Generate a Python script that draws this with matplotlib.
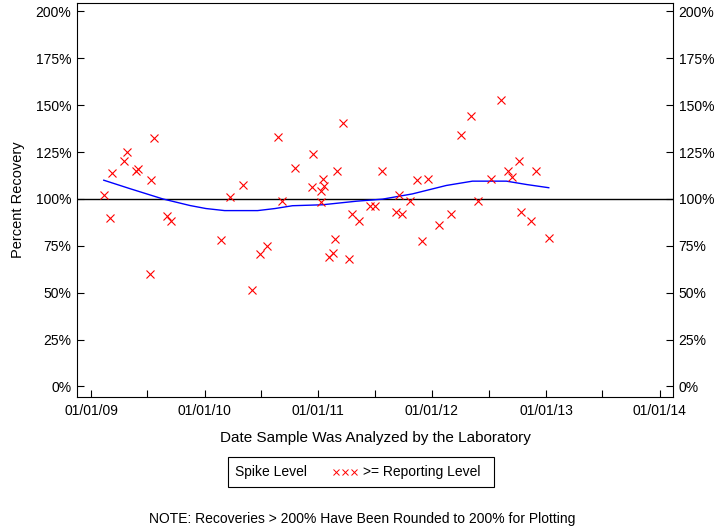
import numpy as np
import pandas as pd
import matplotlib
matplotlib.use("Agg")
import matplotlib.pyplot as plt
import matplotlib.dates as mdates
from matplotlib.patches import Rectangle
from matplotlib.lines import Line2D

plt.rcParams['font.family'] = ['Liberation Sans', 'DejaVu Sans']

# ---------------------------
# Data
# ---------------------------
sample_dates = [
    '2009-02-11', '2009-03-02', '2009-03-08', '2009-04-16', '2009-04-25',
    '2009-05-25', '2009-06-01', '2009-07-09', '2009-07-12', '2009-07-22',
    '2009-09-02', '2009-09-14', '2010-02-22', '2010-03-23', '2010-05-03',
    '2010-06-01', '2010-06-27', '2010-07-19', '2010-08-24', '2010-09-06',
    '2010-10-17', '2010-12-11', '2010-12-14', '2011-01-09', '2011-01-09',
    '2011-01-17', '2011-01-19', '2011-02-03', '2011-02-16', '2011-02-25',
    '2011-03-01', '2011-03-20', '2011-04-09', '2011-04-18', '2011-05-11',
    '2011-06-17', '2011-07-03', '2011-07-23', '2011-09-09', '2011-09-16',
    '2011-09-26', '2011-10-21', '2011-11-13', '2011-11-29', '2011-12-18',
    '2012-01-23', '2012-03-01', '2012-04-03', '2012-05-05', '2012-05-27',
    '2012-07-08', '2012-08-09', '2012-08-31', '2012-09-13', '2012-10-06',
    '2012-10-12', '2012-11-13', '2012-11-29', '2013-01-10',
]
recovery = [
    102, 90, 114, 120, 125,
    115, 116, 60, 110, 132.6,
    91, 88, 78, 101, 107.6,
    51.6, 70.8, 74.7, 133.2, 99,
    116.6, 106.5, 124, 104, 98.3,
    110.7, 106.8, 68.8, 71.1, 78.8,
    114.7, 140.6, 68.1, 92.1, 88.4,
    96, 96.4, 115, 93.3, 101.9,
    92.1, 99, 109.9, 77.7, 110.4,
    86.2, 92.1, 134.2, 144.4, 99,
    110.4, 152.9, 114.7, 111.8, 120,
    93.3, 88.4, 115, 79.3,
]

# smoothed trend line
trend_dates = [
    '2009-02-11', '2009-05-06', '2009-08-20', '2009-11-15', '2010-01-05',
    '2010-03-06', '2010-06-20', '2010-08-15', '2010-10-10', '2011-01-14',
    '2011-05-03', '2011-07-26', '2011-10-30', '2012-02-16', '2012-05-10',
    '2012-08-27', '2012-10-31', '2013-01-10',
]
trend_values = [
    110, 105.5, 100, 96.5, 94.9,
    93.8, 93.8, 94.9, 96.4, 96.9,
    98.8, 99.9, 102.7, 107.2, 109.5,
    109.5, 107.7, 106,
]

y_ticks = [0, 25, 50, 75, 100, 125, 150, 175, 200]
x_ticks = ['2009-01-01', '2010-01-01', '2011-01-01', '2012-01-01', '2013-01-01', '2014-01-01']

x = pd.to_datetime(sample_dates)
xt = pd.to_datetime(trend_dates)

# ---------------------------
# Figure
# ---------------------------
fig = plt.figure(figsize=(7.2, 5.28), dpi=100)
ax = fig.add_axes([77 / 720, 1 - 397 / 528, 596 / 720, 394 / 528])

ax.axhline(100, color='black', lw=1.0, zorder=1)
ax.plot(xt, trend_values, color='#0000ff', lw=1.0, zorder=2)
ax.plot(x, recovery, ls='none', marker='x', ms=6, mew=0.8, color='#ff0000', zorder=3)

ax.set_xlim(pd.Timestamp('2008-11-17'), pd.Timestamp('2014-02-13'))
ax.set_ylim(-5.6, 204.5)

ax.set_yticks(y_ticks)
ax.set_yticklabels([f"{v}%" for v in y_ticks])
ax.set_xticks(pd.to_datetime(x_ticks))
ax.xaxis.set_major_formatter(mdates.DateFormatter('%m/%d/%y'))
ax.xaxis.set_minor_locator(mdates.MonthLocator(bymonth=7))

ax.tick_params(axis='both', which='both', direction='in', length=5, width=0.8,
               labelsize=10, colors='black')
ax.tick_params(axis='y', left=True, right=True, labelleft=True, labelright=True, pad=4)
ax.tick_params(axis='x', pad=5)
for s in ax.spines.values():
    s.set_linewidth(0.8)

# axis titles
fig.text(18 / 720, 1 - 200 / 528, 'Percent Recovery', rotation=90,
         ha='center', va='center', fontsize=10.5)
fig.text(375 / 720, 1 - 438 / 528, 'Date Sample Was Analyzed by the Laboratory',
         ha='center', va='center', fontsize=11)

# ---------------------------
# Legend box
# ---------------------------
fig.add_artist(Rectangle((228 / 720, 1 - 487 / 528), 266 / 720, 30 / 528,
                         transform=fig.transFigure, fill=False, lw=0.8, ec='black'))
fig.text(235 / 720, 1 - 472 / 528, 'Spike Level', ha='left', va='center', fontsize=10)
fig.add_artist(Line2D(np.array([336, 345, 354]) / 720, [1 - 472 / 528] * 3,
                      transform=fig.transFigure, ls='none', marker='x', ms=4.5,
                      mew=0.7, color='#ff0000'))
fig.text(363 / 720, 1 - 472 / 528, '>= Reporting Level', ha='left', va='center', fontsize=10)

fig.text(362 / 720, 1 - 519 / 528,
         'NOTE: Recoveries > 200% Have Been Rounded to 200% for Plotting',
         ha='center', va='center', fontsize=10)

fig.savefig('out.png', dpi=100)
